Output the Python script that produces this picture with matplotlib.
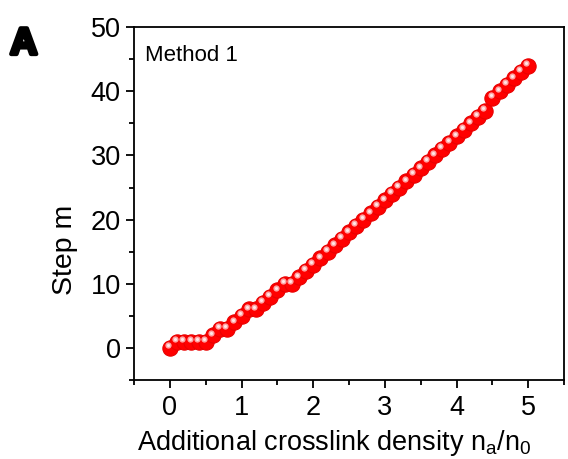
import matplotlib
matplotlib.use("Agg")
import matplotlib.pyplot as plt
import matplotlib.patheffects as pe
from matplotlib.ticker import MultipleLocator

# additional crosslink density n_a/n_0 and the step reached
density = [0.0, 0.1, 0.2, 0.3, 0.4, 0.5, 0.6, 0.7, 0.8, 0.9,
           1.0, 1.1, 1.2, 1.3, 1.4, 1.5, 1.6, 1.7, 1.8, 1.9,
           2.0, 2.1, 2.2, 2.3, 2.4, 2.5, 2.6, 2.7, 2.8, 2.9,
           3.0, 3.1, 3.2, 3.3, 3.4, 3.5, 3.6, 3.7, 3.8, 3.9,
           4.0, 4.1, 4.2, 4.3, 4.4, 4.5, 4.6, 4.7, 4.8, 4.9, 5.0]
step = [0, 1, 1, 1, 1, 1, 2, 3, 3, 4,
        5, 6, 6, 7, 8, 9, 10, 10, 11, 12,
        13, 14, 15, 16, 17, 18, 19, 20, 21, 22,
        23, 24, 25, 26, 27, 28, 29, 30, 31, 32,
        33, 34, 35, 36, 37, 39, 40, 41, 42, 43, 44]

plt.rcParams['font.family'] = ['Liberation Sans', 'DejaVu Sans']
plt.rcParams['mathtext.fontset'] = 'custom'
plt.rcParams['mathtext.rm'] = 'Liberation Sans'
plt.rcParams['mathtext.it'] = 'Liberation Sans'

fig = plt.figure(figsize=(5.68, 4.59), dpi=100)
ax = fig.add_axes([0.236, 0.172, 0.757, 0.769])

# red balls with a small highlight
ax.plot(density, step, 'o', color='#ff0000', markeredgecolor='#e80000',
        markersize=11, markeredgewidth=0.8, zorder=3)
ax.plot([d - 0.025 for d in density], [s + 0.4 for s in step], 'o',
        color='#ffb8b8', markeredgewidth=0, markersize=4.5, zorder=4, alpha=0.9)
ax.plot([d - 0.025 for d in density], [s + 0.4 for s in step], 'o',
        color='#ffe8e8', markeredgewidth=0, markersize=2.2, zorder=5)

ax.set_xlim(-0.5, 5.5)
ax.set_ylim(-5, 50)
ax.xaxis.set_major_locator(MultipleLocator(1))
ax.xaxis.set_minor_locator(MultipleLocator(0.5))
ax.yaxis.set_major_locator(MultipleLocator(10))
ax.yaxis.set_minor_locator(MultipleLocator(5))
ax.tick_params(which='major', direction='out', length=6, width=1.3, labelsize=19.5)
ax.tick_params(which='minor', direction='out', length=3.5, width=1.3)
ax.tick_params(axis='x', pad=5)
for sp in ax.spines.values():
    sp.set_linewidth(1.3)

ax.set_xlabel('Additional crosslink density n$_a$/n$_0$', fontsize=19.5)
ax.xaxis.set_label_coords(0.465, -0.135)
ax.set_ylabel('Step m', fontsize=20.5)
ax.yaxis.set_label_coords(-0.13, 0.37)
ax.text(0.025, 0.95, 'Method 1', transform=ax.transAxes, fontsize=16,
        va='top', ha='left')
fig.text(0.018, 0.904, 'A', fontsize=27, fontweight='bold', va='center',
         path_effects=[pe.withStroke(linewidth=3, foreground='black')])

fig.savefig('out.png', dpi=100)
